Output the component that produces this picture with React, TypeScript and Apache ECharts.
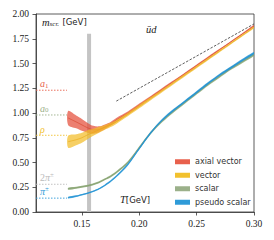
import React, { useEffect, useRef } from "react";
import * as echarts from "echarts";

// temperatures (GeV)
const T = [0.138, 0.145, 0.15, 0.155, 0.16, 0.165, 0.17, 0.175, 0.18, 0.19, 0.2, 0.21, 0.22, 0.23, 0.24, 0.25, 0.26, 0.27, 0.28, 0.29, 0.3];
// screening masses (GeV) and half widths
const axialMid = [0.95, 0.91, 0.88, 0.85, 0.83, 0.835, 0.86, 0.89, 0.93, 1.0, 1.08, 1.16, 1.24, 1.32, 1.4, 1.48, 1.56, 1.64, 1.72, 1.8, 1.88];
const axialErr = [0.07, 0.065, 0.06, 0.05, 0.04, 0.03, 0.025, 0.02, 0.02, 0.015, 0.015, 0.012, 0.012, 0.01, 0.01, 0.01, 0.01, 0.008, 0.008, 0.008, 0.008];
const vectorMid = [0.71, 0.73, 0.75, 0.78, 0.805, 0.83, 0.855, 0.88, 0.91, 0.985, 1.065, 1.145, 1.225, 1.305, 1.385, 1.465, 1.545, 1.625, 1.705, 1.785, 1.865];
const vectorErr = [0.06, 0.055, 0.05, 0.045, 0.035, 0.03, 0.025, 0.022, 0.02, 0.018, 0.018, 0.016, 0.015, 0.014, 0.013, 0.012, 0.012, 0.011, 0.01, 0.01, 0.01];
const scalarMid = [0.235, 0.245, 0.255, 0.265, 0.28, 0.3, 0.33, 0.36, 0.4, 0.5, 0.65, 0.8, 0.92, 1.02, 1.11, 1.2, 1.29, 1.37, 1.45, 1.52, 1.59];
const scalarErr = [0.01, 0.01, 0.01, 0.01, 0.01, 0.01, 0.01, 0.012, 0.012, 0.012, 0.014, 0.014, 0.014, 0.014, 0.014, 0.014, 0.014, 0.014, 0.014, 0.014, 0.014];
const pseudoMid = [0.145, 0.16, 0.175, 0.19, 0.21, 0.235, 0.27, 0.31, 0.36, 0.48, 0.64, 0.8, 0.93, 1.03, 1.12, 1.21, 1.3, 1.385, 1.46, 1.535, 1.605];
const pseudoErr = [0.008, 0.008, 0.008, 0.008, 0.008, 0.008, 0.009, 0.01, 0.01, 0.012, 0.012, 0.012, 0.012, 0.012, 0.012, 0.012, 0.012, 0.012, 0.012, 0.012, 0.012];

// free-theory line
const freeT = [0.18, 0.3];
const freeM = [1.12, 1.9];

// T=0 meson masses
const massValues = [1.23, 0.98, 0.775, 0.28, 0.14];
const massColors = ["#e8604c", "#9bb08a", "#f2c12e", "#bbbbbb", "#2f9bd8"];
const massLabels = ["{i|a}{s|1}", "{i|a}{s|0}", "{i|ρ}", "{n|2}{i|π}{p|±}", "{i|π}{p|±}"];
const massT = [0.11, 0.137];

// pseudo-critical temperature band
const tcLo = 0.1545;
const tcHi = 0.158;
const tcTop = 1.8;

const bandNames = ["axial vector", "vector", "scalar", "pseudo scalar"];
const bandMids = [axialMid, vectorMid, scalarMid, pseudoMid];
const bandErrs = [axialErr, vectorErr, scalarErr, pseudoErr];
const bandFill = ["rgba(228,78,58,0.72)", "rgba(242,188,40,0.72)", "rgba(140,168,118,0.85)", "rgba(38,150,215,0.85)"];
const bandLine = ["#d8432c", "#e9a915", "#7f9c6a", "#1f8fd2"];
const legendColor = ["#e8604c", "#f2c12e", "#9bb08a", "#2f9bd8"];

const serif = "Liberation Serif";
const sans = "DejaVu Sans";

export default function App() {
  const ref = useRef<HTMLDivElement>(null);
  useEffect(() => {
    const chart = echarts.init(ref.current!, null, { renderer: "svg" });

    const bandSeries = bandNames.map((name, k) => ({
      name,
      type: "custom",
      clip: true,
      z: 3 + k,
      itemStyle: { color: legendColor[k] },
      data: [[0.2, 1]],
      encode: { x: 0, y: 1 },
      renderItem: (params: any, api: any) => {
        const up: number[][] = [];
        const lo: number[][] = [];
        const mid: number[][] = [];
        for (let i = 0; i < T.length; i++) {
          up.push(api.coord([T[i], bandMids[k][i] + bandErrs[k][i]]));
          lo.push(api.coord([T[i], bandMids[k][i] - bandErrs[k][i]]));
          mid.push(api.coord([T[i], bandMids[k][i]]));
        }
        return {
          type: "group",
          children: [
            { type: "polygon", shape: { points: up.concat(lo.reverse()), smooth: 0.3 }, style: { fill: bandFill[k], stroke: "none" } },
            { type: "polyline", shape: { points: mid, smooth: 0.3 }, style: { fill: "none", stroke: bandLine[k], lineWidth: 0.8, opacity: 0.8 } },
          ],
        };
      },
    }));

    const tcSeries = {
      name: "Tc",
      type: "custom",
      z: 2,
      data: [[tcLo, tcTop]],
      encode: { x: 0, y: 1 },
      renderItem: (params: any, api: any) => {
        const a = api.coord([tcLo, tcTop]);
        const b = api.coord([tcHi, 0]);
        return { type: "rect", shape: { x: a[0], y: a[1], width: b[0] - a[0], height: b[1] - a[1] }, style: { fill: "#c4c4c4" } };
      },
    };

    const massSeries = massValues.map((v, k) => ({
      name: "m" + k,
      type: "line",
      showSymbol: false,
      symbol: "none",
      silent: true,
      z: 2,
      data: [[massT[0], v], [massT[1], v]],
      lineStyle: { color: massColors[k], width: 0.9, type: [1.5, 1.5] },
    }));

    const freeSeries = {
      name: "free",
      type: "line",
      symbol: "none",
      z: 10,
      data: freeT.map((t, i) => [t, freeM[i]]),
      lineStyle: { color: "#333", width: 0.8, type: [2.5, 1.5] },
    };

    const option: any = {
      animation: false,
      grid: { left: 36, right: 20, top: 14, bottom: 28, show: true, borderColor: "#333", borderWidth: 0.8, backgroundColor: "transparent" },
      xAxis: {
        type: "value",
        min: 0.11,
        max: 0.3,
        splitLine: { show: false },
        axisLine: { show: true, lineStyle: { color: "#333", width: 0.8 } },
        axisTick: { show: true, length: 3.5, lineStyle: { color: "#333", width: 0.8 }, customValues: [0.15, 0.2, 0.25, 0.3] },
        axisLabel: { customValues: [0.15, 0.2, 0.25, 0.3], formatter: (v: number) => v.toFixed(2), fontFamily: serif, fontSize: 9.5, color: "#222", margin: 7 },
      },
      yAxis: {
        type: "value",
        min: 0,
        max: 2,
        interval: 0.25,
        splitLine: { show: false },
        axisLine: { show: true, lineStyle: { color: "#333", width: 0.8 } },
        axisTick: { show: true, length: 3.5, lineStyle: { color: "#333", width: 0.8 } },
        axisLabel: { formatter: (v: number) => v.toFixed(2), fontFamily: serif, fontSize: 9.5, color: "#222", margin: 7 },
      },
      legend: {
        data: bandNames,
        orient: "vertical",
        left: 170,
        top: 152,
        icon: "rect",
        itemWidth: 15,
        itemHeight: 5,
        itemGap: 4,
        textStyle: { fontFamily: sans, fontSize: 8, color: "#333", lineHeight: 9.5 },
      },
      series: [tcSeries, ...massSeries, ...bandSeries, freeSeries],
    };
    chart.setOption(option);

    const rich = (color: string) => ({
      i: { fontFamily: serif, fontStyle: "italic", fontSize: 10, fill: color },
      n: { fontFamily: serif, fontSize: 10, fill: color },
      s: { fontFamily: serif, fontSize: 7, fill: color, verticalAlign: "bottom", padding: [4, 0, 0, 0] },
      p: { fontFamily: serif, fontSize: 7, fill: color, padding: [0, 0, 5, 0] },
    });

    const labels = massValues.map((v, k) => {
      const p = chart.convertToPixel({ gridIndex: 0 }, [0.1135, v]) as number[];
      return {
        type: "text",
        x: p[0],
        y: p[1] - 1,
        z: 20,
        style: { text: massLabels[k], rich: rich(massColors[k]), fill: massColors[k], verticalAlign: "bottom", align: "left" },
      };
    });

    chart.setOption({
      graphic: [
        ...labels,
        {
          type: "text",
          left: 42,
          top: 16,
          style: {
            text: "{i|m}{s|scr.} {g|[GeV]}",
            rich: {
              i: { fontFamily: serif, fontStyle: "italic", fontSize: 10.5, fill: "#222" },
              s: { fontFamily: serif, fontStyle: "italic", fontSize: 7, fill: "#222", padding: [4, 0, 0, 0] },
              g: { fontFamily: sans, fontSize: 8.5, fill: "#222" },
            },
          },
        },
        {
          type: "text",
          left: 146,
          top: 24,
          style: { text: "ūd", fontFamily: serif, fontStyle: "italic", fontSize: 10.5, fill: "#222" },
        },
        {
          type: "text",
          left: 120,
          top: 194,
          style: {
            text: "{i|T}{g|[GeV]}",
            rich: {
              i: { fontFamily: serif, fontStyle: "italic", fontSize: 10.5, fill: "#222" },
              g: { fontFamily: sans, fontSize: 8.5, fill: "#222" },
            },
          },
        },
      ],
    });

    return () => chart.dispose();
  }, []);
  return <div ref={ref} style={{ position: "fixed", left: 0, top: 0, width: 274, height: 240, background: "#fff" }} />;
}
